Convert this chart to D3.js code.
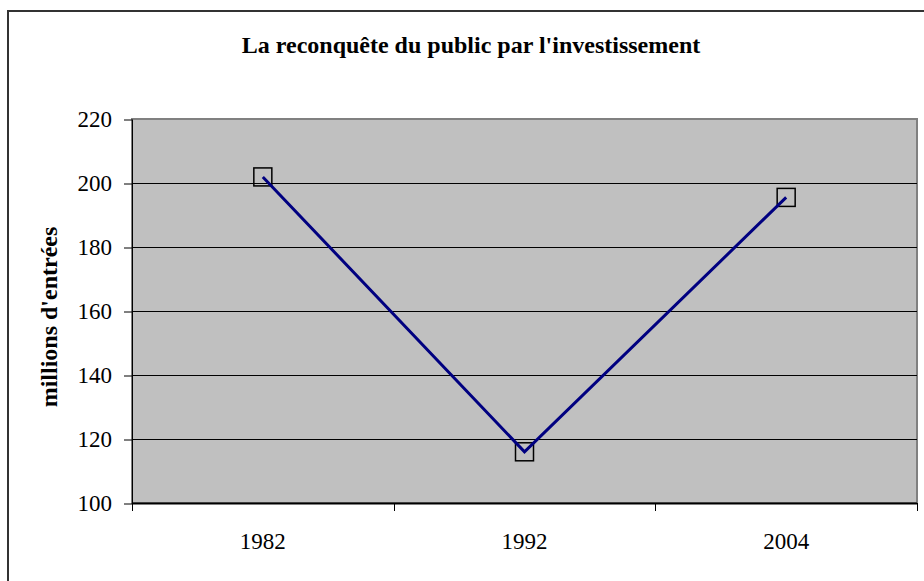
<!DOCTYPE html>
<html>
<head>
<meta charset="utf-8">
<script src="https://cdn.jsdelivr.net/npm/d3@7"></script>
<style>
  body { margin: 0; background: #fff; }
  svg { display: block; }
  text { font-family: "Liberation Serif", "Times New Roman", serif; fill: #000; }
</style>
</head>
<body>
<div id="chart"></div>
<script>
// cinema attendance, France
let years = ['1982', '1992', '2004'];
let entries = [201.9, 116.0, 195.5];
let yTicks = [100, 120, 140, 160, 180, 200, 220];

let width = 924, height = 581;
let plot = { left: 132, right: 917, top: 119, bottom: 503 };

let svg = d3.select('#chart').append('svg').attr('width', width).attr('height', height);

// chart frame (runs past the right and bottom edges)
svg.append('rect')
    .attr('x', 8).attr('y', 11)
    .attr('width', 940).attr('height', 600)
    .attr('fill', 'none')
    .attr('stroke', '#333')
    .attr('stroke-width', 2);

svg.append('text')
    .attr('x', 471).attr('y', 53)
    .attr('text-anchor', 'middle')
    .attr('font-weight', 'bold')
    .style('font-size', '24px')
    .text("La reconquête du public par l'investissement");

let x = d3.scaleBand().domain(years).range([plot.left, plot.right]).padding(0);
let y = d3.scaleLinear().domain([100, 220]).range([plot.bottom, plot.top]);

// plot area
svg.append('rect')
    .attr('x', plot.left).attr('y', plot.top)
    .attr('width', plot.right - plot.left).attr('height', plot.bottom - plot.top)
    .attr('fill', '#c0c0c0')
    .attr('stroke', '#808080')
    .attr('stroke-width', 2);

// gridlines
svg.append('g')
    .selectAll('line')
    .data(yTicks.filter(t => t > 100 && t < 220))
    .join('line')
    .attr('x1', plot.left).attr('x2', plot.right)
    .attr('y1', d => y(d) + 0.5).attr('y2', d => y(d) + 0.5)
    .attr('stroke', '#000')
    .attr('stroke-width', 1);

// y axis
let yAxis = svg.append('g')
    .attr('transform', `translate(${plot.left},0.5)`)
    .call(d3.axisLeft(y).tickValues(yTicks).tickSize(8).tickPadding(12));
yAxis.attr('font-family', null);
yAxis.select('.domain').attr('stroke', '#000').attr('d', `M0.5,${plot.top}V${plot.bottom}`);
yAxis.selectAll('line').attr('stroke', '#000');
yAxis.selectAll('text').style('font-size', '23px');

// x axis, ticks on category boundaries
let xAxis = svg.append('g').attr('transform', `translate(0,${plot.bottom})`);
xAxis.append('line')
    .attr('x1', plot.left).attr('x2', plot.right)
    .attr('y1', 0.5).attr('y2', 0.5)
    .attr('stroke', '#000').attr('stroke-width', 2);
let bounds = years.map(d => x(d)).concat([plot.right]);
xAxis.selectAll('line.tick')
    .data(bounds)
    .join('line')
    .attr('class', 'tick')
    .attr('x1', d => Math.round(d) + 0.5).attr('x2', d => Math.round(d) + 0.5)
    .attr('y1', 0).attr('y2', 8)
    .attr('stroke', '#000');
xAxis.selectAll('text')
    .data(years)
    .join('text')
    .attr('x', d => x(d) + x.bandwidth() / 2)
    .attr('y', 46)
    .attr('text-anchor', 'middle')
    .style('font-size', '23px')
    .text(d => d);

svg.append('text')
    .attr('transform', `translate(57,${(plot.top + plot.bottom) / 2 + 6}) rotate(-90)`)
    .attr('text-anchor', 'middle')
    .attr('font-weight', 'bold')
    .style('font-size', '24px')
    .text("millions d'entrées");

let pts = years.map((d, i) => [x(d) + x.bandwidth() / 2, y(entries[i])]);

svg.append('g')
    .selectAll('rect')
    .data(pts)
    .join('rect')
    .attr('x', d => d[0] - 9).attr('y', d => d[1] - 9)
    .attr('width', 18).attr('height', 18)
    .attr('fill', 'none')
    .attr('stroke', '#000')
    .attr('stroke-width', 1.5);

svg.append('path')
    .datum(pts)
    .attr('d', d3.line())
    .attr('fill', 'none')
    .attr('stroke', '#000080')
    .attr('stroke-width', 3);
</script>
</body>
</html>
